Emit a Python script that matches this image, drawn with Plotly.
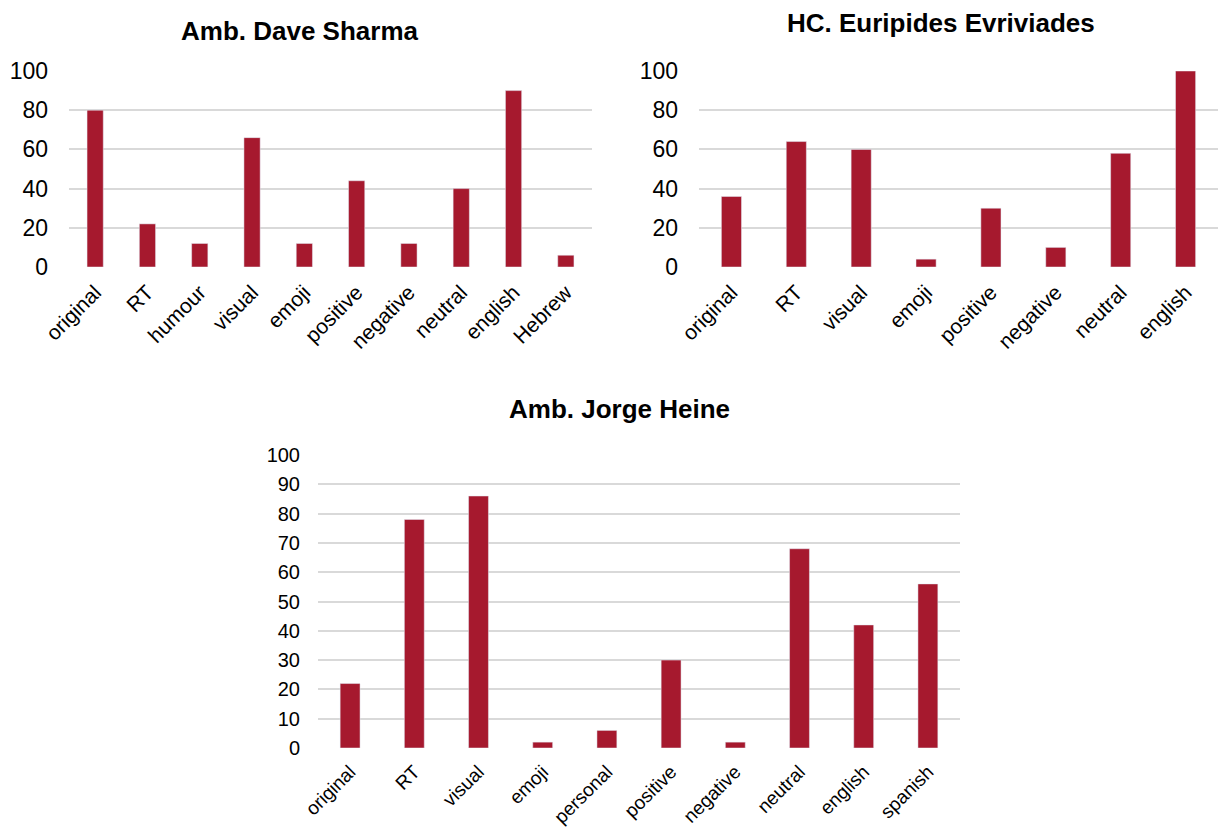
import plotly.graph_objects as go

cats1 = ["original", "RT", "humour", "visual", "emoji", "positive", "negative", "neutral", "english", "Hebrew"]
vals1 = [80, 22, 12, 66, 12, 44, 12, 40, 90, 6]
title1 = "Amb. Dave Sharma"

cats2 = ["original", "RT", "visual", "emoji", "positive", "negative", "neutral", "english"]
vals2 = [36, 64, 60, 4, 30, 10, 58, 100]
title2 = "HC. Euripides Evriviades"

cats3 = ["original", "RT", "visual", "emoji", "personal", "positive", "negative", "neutral", "english", "spanish"]
vals3 = [22, 78, 86, 2, 6, 30, 2, 68, 42, 56]
title3 = "Amb. Jorge Heine"

W, H = 1219, 832
BAR = "#A6192E"
GRID = "#D9D9D9"
FONT = "Liberation Sans, Arial, sans-serif"

def px_x(a, b):
    return [a / W, b / W]

def px_y(top, bottom):
    return [(H - bottom) / H, (H - top) / H]

fig = go.Figure()
fig.add_trace(go.Bar(x=cats1, y=vals1, xaxis="x", yaxis="y", marker_color=BAR, width=0.31))
fig.add_trace(go.Bar(x=cats2, y=vals2, xaxis="x2", yaxis="y2", marker_color=BAR, width=0.31))
fig.add_trace(go.Bar(x=cats3, y=vals3, xaxis="x3", yaxis="y3", marker_color=BAR, width=0.31))

def xax(size, standoff):
    return dict(tickangle=-45, showgrid=False, zeroline=False, showline=False, automargin=False,
                tickfont=dict(family=FONT, size=size, color="#000"), ticks="",
                ticklabelstandoff=standoff)

def yax(size, dtick, standoff):
    return dict(range=[0, 100], dtick=dtick, showgrid=True, gridcolor=GRID, gridwidth=1.5,
                zeroline=False, showline=False, automargin=False,
                tickfont=dict(family=FONT, size=size, color="#000"), ticks="",
                ticklabelstandoff=standoff)

fig.update_layout(
    width=W, height=H, margin=dict(l=0, r=0, t=0, b=0),
    plot_bgcolor="white", paper_bgcolor="white", showlegend=False,
    xaxis=dict(domain=px_x(69, 592), anchor="y", **xax(21, 8)),
    yaxis=dict(domain=px_y(71, 267), anchor="x", **yax(23, 20, 20)),
    xaxis2=dict(domain=px_x(699, 1218), anchor="y2", **xax(21, 8)),
    yaxis2=dict(domain=px_y(71, 267), anchor="x2", **yax(23, 20, 20)),
    xaxis3=dict(domain=px_x(318, 960), anchor="y3", **xax(19, 8)),
    yaxis3=dict(domain=px_y(455, 748), anchor="x3", **yax(20, 10, 17)),
)

tfont = dict(family=FONT, size=26, color="#000")
for text, xc, yc in [(title1, 300, 31), (title2, 941, 23), (title3, 619, 409)]:
    fig.add_annotation(text="<b>" + text + "</b>", x=xc / W, y=(H - yc) / H, xref="paper", yref="paper",
                       showarrow=False, font=tfont, xanchor="center", yanchor="middle")

fig.write_html("out.html")
